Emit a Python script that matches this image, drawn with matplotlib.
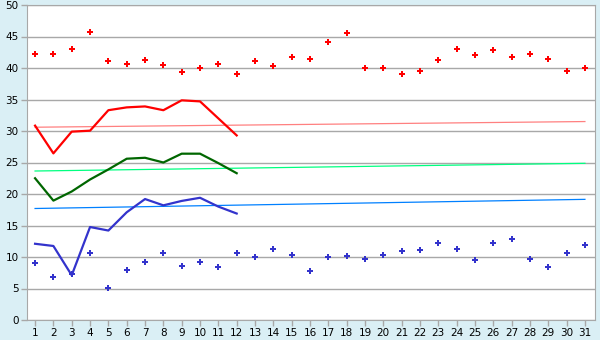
import numpy as np
import matplotlib
matplotlib.use("Agg")
import matplotlib.pyplot as plt

days = list(range(1, 32))

# daily high / low points
high_pts = [42.2, 42.2, 43.0, 45.7, 41.05, 40.6, 41.2, 40.4, 39.3, 39.95,
            40.7, 39.1, 41.05, 40.3, 41.7, 41.4, 44.1, 45.5, 39.95, 39.95,
            39.0, 39.5, 41.2, 43.0, 42.0, 42.8, 41.7, 42.3, 41.4, 39.5, 39.95]
low_pts = [9.0, 6.8, 7.25, 10.6, 5.03, 7.88, 9.15, 10.6, 8.5, 9.15,
           8.36, 10.6, 9.95, 11.2, 10.26, 7.72, 9.95, 10.1, 9.63, 10.26,
           10.9, 11.06, 12.17, 11.2, 9.47, 12.17, 12.8, 9.63, 8.36, 10.6, 11.85]

# running lines, first 12 days
line_days = list(range(1, 13))
red_line = [30.85, 26.45, 29.9, 30.05, 33.3, 33.75, 33.9, 33.3, 34.87, 34.7, 32.0, 29.3]
green_line = [22.5, 18.95, 20.4, 22.3, 23.9, 25.6, 25.75, 25.0, 26.4, 26.4, 24.9, 23.3]
blue_line = [12.1, 11.75, 7.1, 14.76, 14.2, 17.1, 19.2, 18.2, 18.9, 19.4, 18.0, 16.9]

# thin trend lines (start, end)
trend_days = [1, 31]
red_trend = [30.6, 31.5]
green_trend = [23.65, 24.87]
blue_trend = [17.7, 19.15]

bg = "#daeff5"
fig = plt.figure(figsize=(6, 3.4), dpi=100, facecolor=bg)
ax = fig.add_axes([27 / 600, 1 - 320 / 340, 568 / 600, 315 / 340])
ax.set_facecolor("white")

ax.plot(trend_days, red_trend, color="#ff8080", lw=0.9)
ax.plot(trend_days, green_trend, color="#00ff80", lw=0.9)
ax.plot(trend_days, blue_trend, color="#0080ff", lw=0.9)

ax.plot(line_days, red_line, color="#ff0000", lw=1.6)
ax.plot(line_days, green_line, color="#006600", lw=1.6)
ax.plot(line_days, blue_line, color="#3333cc", lw=1.6)

ax.plot(days, high_pts, "P", color="#ff0000", ms=5, mew=0, ls="none")
ax.plot(days, low_pts, "P", color="#3333cc", ms=5, mew=0, ls="none")

ax.set_xlim(0.56, 31.55)
ax.set_ylim(0, 50)
ax.set_xticks(days)
ax.set_yticks(range(0, 51, 5))
ax.yaxis.grid(True, color="#a8a8a8", lw=1.0)
ax.set_axisbelow(True)
for s in ax.spines.values():
    s.set_color("#a8a8a8")
ax.tick_params(axis="both", labelsize=7.5, colors="#a8a8a8", labelcolor="black",
               length=4, width=1, direction="out", pad=2)

fig.savefig("out.png", dpi=100, facecolor=bg)
